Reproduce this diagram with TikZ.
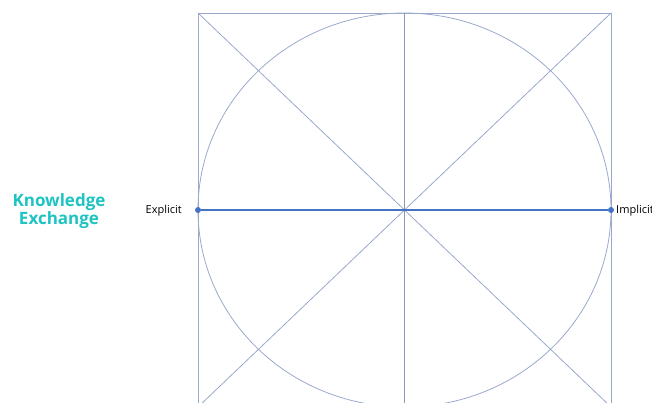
\documentclass[tikz,border=0pt]{standalone}
\usepackage{fontspec}
\setmainfont{Open Sans}
\definecolor{thinline}{HTML}{9AA8CC}
\definecolor{axisblue}{HTML}{4472C4}
\definecolor{vertline}{HTML}{8A98B8}
\definecolor{teal}{HTML}{1EC3C3}
\tikzset{
  thin line/.style={draw=thinline, line width=0.8pt},
  axis line/.style={draw=axisblue, line width=1.8pt},
  dot/.style={circle, fill=axisblue, inner sep=0pt, minimum size=6pt},
  axis label/.style={font=\fontsize{11}{12}\selectfont, text=black, inner sep=0pt},
  title/.style={font=\bfseries\fontsize{17}{16.5}\selectfont, text=teal, align=center, inner sep=0pt}
}
\begin{document}
\begin{tikzpicture}[x=1pt,y=-1pt]
\useasboundingbox (0,0) rectangle (652,403);
\clip (0,0) rectangle (652,403);
\coordinate (tl) at (198,13);
\coordinate (tr) at (611,13);
\coordinate (bl) at (198,407);
\coordinate (br) at (611,407);
\coordinate (tm) at (404.5,13);
\coordinate (bm) at (404.5,407);
\coordinate (c) at (404.5,210);
\draw[thin line] (bl) -- (tl) -- (tr) -- (br) -- (bl);
\draw[thin line] (tl) -- (br);
\draw[thin line] (tr) -- (bl);
\draw[thin line] (c) ellipse [x radius=206.5, y radius=197];
\draw[draw=vertline, line width=1.6pt] (tm) -- (bm);
\node[dot] (L) at (198,210) {};
\node[dot] (R) at (611,210) {};
\draw[axis line] (L) -- (R);
\node[axis label, anchor=east] (ex) at (182,211) {Explicit};
\node[axis label, anchor=west] (im) at (616,211) {Implicit};
\node[title] (ke) at (59,211) {Knowledge\\Exchange};
\end{tikzpicture}
\end{document}
